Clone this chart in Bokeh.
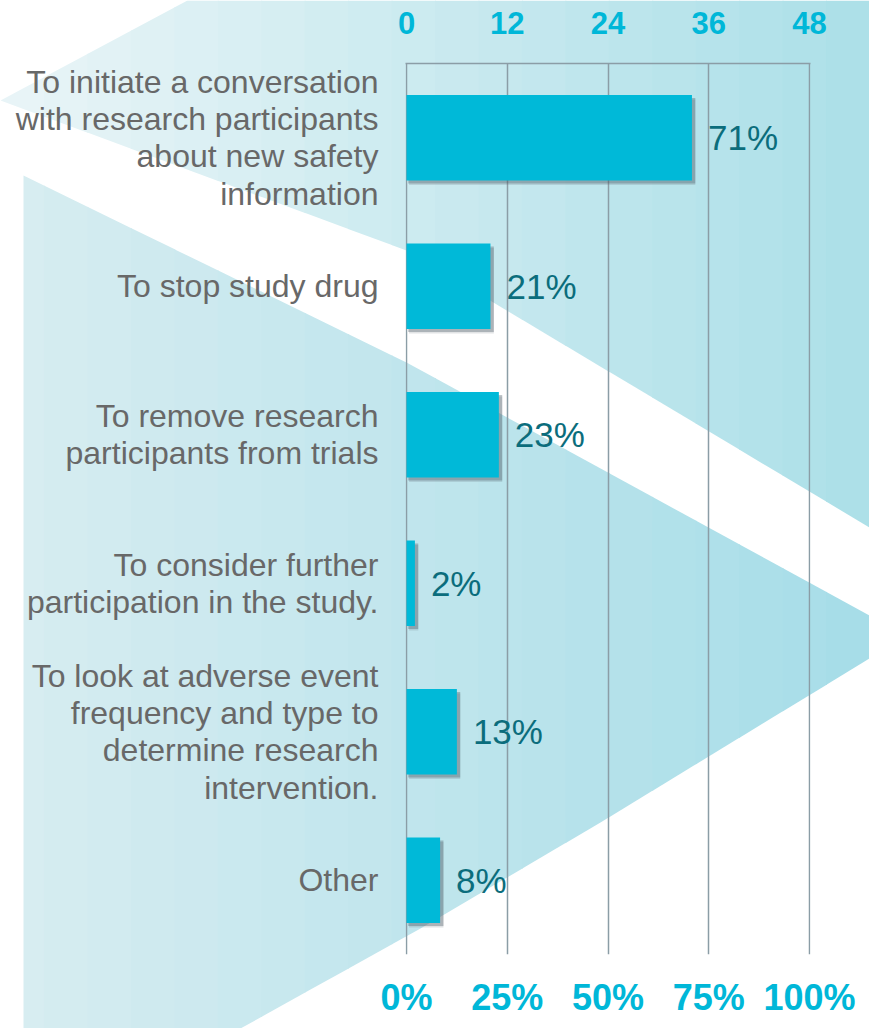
from bokeh.plotting import figure
from bokeh.models import (ColumnDataSource, FactorRange, Range1d, LinearAxis,
                          FixedTicker)
from bokeh.transform import dodge
from bokeh.core.properties import value
from bokeh.embed import file_html
from bokeh.resources import INLINE

# ---------------- data ----------------
categories = [
    "To initiate a conversation\nwith research participants\nabout new safety\ninformation",
    "To stop study drug",
    "To remove research\nparticipants from trials",
    "To consider further\nparticipation in the study.",
    "To look at adverse event\nfrequency and type to\ndetermine research\nintervention.",
    "Other",
]
counts = [34, 10, 11, 1, 6, 4]          # respondents (n = 48)
pct_labels = ["71%", "21%", "23%", "2%", "13%", "8%"]
count_ticks = [0, 12, 24, 36, 48]
pct_ticks = [0, 25, 50, 75, 100]
pct_tick_labels = ["0%", "25%", "50%", "75%", "100%"]

# ---------------- layout / style ----------------
W, H = 869, 1028
FL, FR, FT, FB = 405, 810, 63, 954
XMAX = 48
PAD = 0.12          # tiny range padding so the 0 and 48 grid lines are drawn

CYAN = "#00b7d8"
BAR = "#00b9d8"
GRID = "#8b9da6"
LABEL_GREY = "#686868"
PCT_COL = "#0b6d7c"
FONT = "Liberation Sans"

# ---------------- decorative background (separate, pixel-space figure) ------
bg = figure(width=W, height=H, x_range=Range1d(0, W), y_range=Range1d(H, 0),
            x_axis_location=None, y_axis_location=None,
            output_backend="svg", toolbar_location=None, min_border=0)
bg.outline_line_color = None
bg.border_fill_color = "white"
bg.background_fill_color = "white"
bg.xgrid.visible = False
bg.ygrid.visible = False

def clip(poly, xmin, xmax):
    def clip_edge(pts, inside, xc):
        out = []
        for i in range(len(pts)):
            cur, prev = pts[i], pts[i - 1]
            def inter(a, b):
                t = (xc - a[0]) / (b[0] - a[0])
                return (xc, a[1] + (b[1] - a[1]) * t)
            if inside(cur):
                if not inside(prev):
                    out.append(inter(prev, cur))
                out.append(cur)
            elif inside(prev):
                out.append(inter(prev, cur))
        return out
    pts = clip_edge(poly, lambda q: q[0] >= xmin, xmin)
    if not pts:
        return pts
    return clip_edge(pts, lambda q: q[0] <= xmax, xmax)

def mix(c1, c2, t):
    a = [int(c1[i:i + 2], 16) for i in (1, 3, 5)]
    b = [int(c2[i:i + 2], 16) for i in (1, 3, 5)]
    return "#%02x%02x%02x" % tuple(round(a[k] + (b[k] - a[k]) * t) for k in range(3))

shapes = [
    ([(187, 0), (869, 0), (869, 527), (406, 250), (0, 100)], "#eaf5f7", "#abdfe8"),
    ([(23, 175), (406, 362), (869, 615), (869, 658), (600, 822), (420, 928),
      (240, 1028), (23, 1028)], "#d8edf1", "#a6dde8"),
]
NS = 20
pxs, pys, pcs = [], [], []
for poly, c_left, c_right in shapes:
    for i in range(NS):
        x0 = W * i / NS
        x1 = W * (i + 1) / NS + 1.0
        part = clip(poly, x0, x1)
        if len(part) < 3:
            continue
        pxs.append([q[0] for q in part])
        pys.append([q[1] for q in part])
        pcs.append(mix(c_left, c_right, (i + 0.5) / NS))
bg.patches(xs=pxs, ys=pys, fill_color=pcs, line_color=None)

# ---------------- chart (overlaid on the background) ----------------
p = figure(width=W, height=H,
           x_range=Range1d(-PAD, XMAX + PAD),
           y_range=FactorRange(factors=categories[::-1]),
           x_axis_location="above",
           output_backend="svg", toolbar_location=None,
           min_border_left=FL, min_border_right=W - FR,
           min_border_top=FT, min_border_bottom=H - FB,
           styles={"position": "absolute", "top": "0px", "left": "0px"})
p.background_fill_color = None
p.border_fill_color = None
p.outline_line_color = None

src = ColumnDataSource(dict(cat=categories, count=counts, lab=pct_labels,
                            shadow_r=[c + 0.4 for c in counts]))

p.hbar(y=dodge("cat", -0.03, range=p.y_range), left=0.3, right="shadow_r", height=0.575,
       source=src, fill_color="#56666f", fill_alpha=0.18, line_color=None)
p.hbar(y=dodge("cat", -0.02, range=p.y_range), left=0.2, right="shadow_r", height=0.575,
       source=src, fill_color="#4a5a63", fill_alpha=0.35, line_color=None)
p.hbar(y="cat", left=0, right="count", height=0.575, source=src,
       fill_color=BAR, line_color=None)

p.text(x="count", y="cat", text="lab", source=src, x_offset=16,
       text_baseline="middle", text_align="left",
       text_font=value(FONT), text_font_size="35px", text_color=PCT_COL)

top = p.above[0]
top.ticker = FixedTicker(ticks=count_ticks)
top.axis_line_color = GRID
top.axis_line_width = 1.5
top.major_tick_in = 0
top.major_tick_out = 0
top.minor_tick_line_color = None
top.major_label_standoff = 30
top.major_label_text_font = FONT
top.major_label_text_font_size = "31px"
top.major_label_text_font_style = "bold"
top.major_label_text_color = CYAN

pct_pad = PAD * 100 / XMAX
p.extra_x_ranges = {"pct": Range1d(-pct_pad, 100 + pct_pad)}
bottom = LinearAxis(x_range_name="pct", ticker=FixedTicker(ticks=pct_ticks),
                    major_label_overrides={t: l for t, l in zip(pct_ticks, pct_tick_labels)})
bottom.axis_line_color = None
bottom.major_tick_in = 0
bottom.major_tick_out = 0
bottom.minor_tick_line_color = None
bottom.major_label_standoff = 22
bottom.major_label_text_font = FONT
bottom.major_label_text_font_size = "36px"
bottom.major_label_text_font_style = "bold"
bottom.major_label_text_color = CYAN
p.add_layout(bottom, "below")

ya = p.yaxis[0]
ya.axis_line_color = None
ya.major_tick_in = 0
ya.major_tick_out = 0
ya.major_label_standoff = 27
ya.major_label_text_font = FONT
ya.major_label_text_font_size = "32px"
ya.major_label_text_color = LABEL_GREY
ya.major_label_text_line_height = 1.04

p.xgrid.ticker = FixedTicker(ticks=count_ticks)
p.xgrid.grid_line_color = GRID
p.xgrid.grid_line_width = 1.5
p.ygrid.grid_line_color = None

open("out.html", "w").write(file_html([bg, p], INLINE))
